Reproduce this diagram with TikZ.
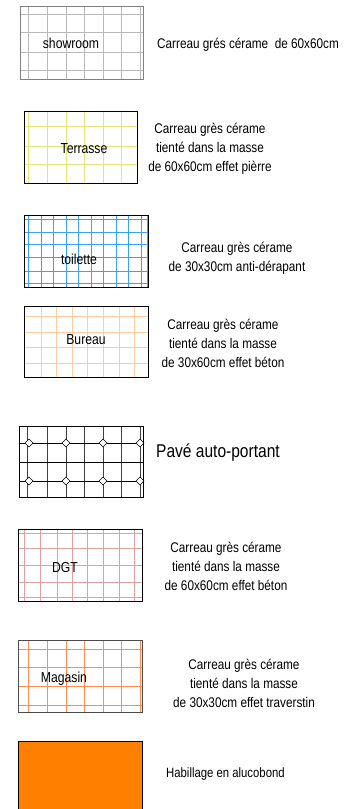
\documentclass[tikz,border=0pt]{standalone}
\usepackage{fontspec}
\setmainfont{Liberation Sans}[FakeStretch=0.84]
\definecolor{gridgray}{RGB}{185,185,185}
\definecolor{gridyellow}{RGB}{228,228,120}
\definecolor{gridblue}{RGB}{60,160,255}
\definecolor{gridpeach}{RGB}{255,205,160}
\definecolor{gridrose}{RGB}{222,160,160}
\definecolor{gridorange}{RGB}{255,140,80}
\definecolor{alucobond}{RGB}{255,128,0}

\begin{document}
\begin{tikzpicture}[x=1pt,y=-1pt,
  lbl/.style={font=\fontsize{14.5}{16}\selectfont, inner sep=0pt},
  desc/.style={font=\fontsize{14}{19}\selectfont, align=center, inner sep=0pt},
  frame/.style={line width=1pt}]
  \useasboundingbox (0,0) rectangle (350,809);

  % showroom
  \foreach \x in {28,47,66,84,103,121,140} \draw[gridgray] (\x,6) -- (\x,79);
  \foreach \y in {14,32,52,70} \draw[gridgray] (20,\y) -- (143,\y);
  \draw[frame, gray] (20,6) rectangle (143,79);
  \node[lbl] (showroom) at (71,43) {showroom};
  \node[desc, anchor=west] (d-showroom) at (157,45) {Carreau grés cérame\ \ de 60x60cm};

  % terrasse
  \foreach \x in {28,47,66,84,103,121} \draw[gridyellow] (\x,111) -- (\x,183);
  \foreach \y in {126,146,164} \draw[gridyellow] (24,\y) -- (137,\y);
  \draw[frame] (24,111) rectangle (137,183);
  \node[lbl] (terrasse) at (84,149) {Terrasse};
  \node[desc] (d-terrasse) at (210,149) {Carreau grès cérame\\tienté dans la masse\\de 60x60cm effet pièrre};

  % toilette
  \foreach \x in {28,41,53,66,78,91,103,116,128,141,147} \draw[gridblue, line width=0.9pt] (\x,215) -- (\x,287);
  \foreach \y in {219,232,244,257,271,283} \draw[gridblue, line width=0.9pt] (24,\y) -- (148,\y);
  \draw[frame] (24,215) rectangle (148,287);
  \node[lbl] (toilette) at (79,259) {toilette};
  \node[desc] (d-toilette) at (237,258) {Carreau grès cérame\\de 30x30cm anti-dérapant};

  % bureau
  \foreach \x in {41,56,72,87,103,119,134} \draw[gridpeach] (\x,306) -- (\x,377);
  \foreach \y in {316,332,347,363} \draw[gridpeach] (24,\y) -- (148,\y);
  \draw[frame] (24,306) rectangle (148,377);
  \node[lbl] (bureau) at (86,340) {Bureau};
  \node[desc] (d-bureau) at (223,343) {Carreau grès cérame\\tienté dans la masse\\de 30x60cm effet béton};

  % pave auto-portant
  \foreach \x in {27,47,66,84,103,121,140} \draw[black!75] (\x,426) -- (\x,497);
  \foreach \y in {443,462,481} \draw (19,\y) -- (143,\y);
  \foreach \x in {29,66,103,140}
    \foreach \y in {443,481}
      \draw[fill=white] (\x-4,\y) -- (\x,\y-4) -- (\x+4,\y) -- (\x,\y+4) -- cycle;
  \draw[frame] (19,426) rectangle (143,497);
  \node[desc, anchor=west, font=\fontsize{18.5}{22}\selectfont] (d-pave) at (156,453) {Pavé auto-portant};

  % DGT
  \foreach \x in {24,40,57,72,87,103,119,134} \draw[gridrose] (\x,529) -- (\x,601);
  \foreach \y in {533,548,565,582,597} \draw[gridrose] (18,\y) -- (142,\y);
  \draw[frame] (18,529) rectangle (142,601);
  \node[lbl] (dgt) at (65,568) {DGT};
  \node[desc] (d-dgt) at (226,566) {Carreau grès cérame\\tienté dans la masse\\de 60x60cm effet béton};

  % magasin
  \foreach \x in {28,47,66,84,103,121,140} \draw[gridorange] (\x,640) -- (\x,712);
  \foreach \y in {649,667,686,705} \draw[gridorange] (18,\y) -- (142,\y);
  \draw[frame, black!70] (18,640) rectangle (142,712);
  \node[lbl] (magasin) at (64,679) {Magasin};
  \node[desc] (d-magasin) at (244,683) {Carreau grès cérame\\tienté dans la masse\\de 30x30cm effet traverstin};

  % alucobond
  \draw[frame, fill=alucobond] (18,741) rectangle (142,815);
  \node[desc, anchor=west, font=\fontsize{13.5}{19}\selectfont] (d-alucobond) at (166,774) {Habillage en alucobond};
\end{tikzpicture}
\end{document}
